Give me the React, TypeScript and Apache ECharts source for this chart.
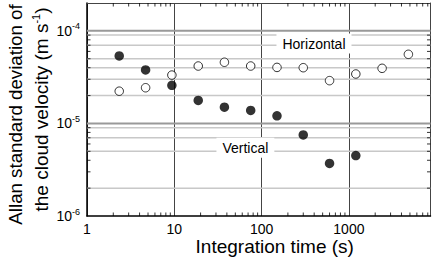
import React, { useEffect, useRef } from "react";
import * as echarts from "echarts";

// Integration times (s) and Allan deviations (m s^-1)
const horizontalTimes = [2.34, 4.69, 9.38, 18.8, 37.5, 75, 150, 300, 600, 1200, 2400, 4800];
const horizontalDev = [2.23e-5, 2.43e-5, 3.33e-5, 4.17e-5, 4.58e-5, 4.17e-5, 4.03e-5, 4.0e-5, 2.9e-5, 3.42e-5, 3.94e-5, 5.58e-5];
const verticalTimes = [2.34, 4.69, 9.38, 18.8, 37.5, 75, 150, 300, 600, 1200];
const verticalDev = [5.36e-5, 3.78e-5, 2.58e-5, 1.77e-5, 1.5e-5, 1.38e-5, 1.21e-5, 7.52e-6, 3.7e-6, 4.49e-6];

// Axis ranges and reference lines
const xMin = 1;
const xMax = 8600;
const yMin = 1e-6;
const yMax = 2e-4;
const gridMajorY = [1e-5, 1e-4];
const gridMinorY = [2e-6, 5e-6, 7e-6, 9e-6, 2e-5, 3e-5, 4e-5, 5e-5, 7e-5, 9e-5];
const xDecades = [1, 10, 100, 1000];
const yDecades = [1e-6, 1e-5];
const minorMultipliers = [2, 3, 4, 5, 6, 7, 8, 9];

// Annotation labels: [x, y, text]
const seriesLabels: [number, number, string][] = [
  [398, 7.3e-5, "Horizontal"],
  [65.2, 5.47e-6, "Vertical"],
];

const FONT = "'Liberation Sans', Arial, sans-serif";

function isPow10(v: number) {
  const l = Math.log10(v);
  return Math.abs(l - Math.round(l)) < 1e-6;
}

function tickSeries(data: number[][], size: number[], offset: number[]) {
  return {
    type: "scatter",
    silent: true,
    clip: false,
    z: 4,
    symbol: "rect",
    symbolSize: size,
    symbolOffset: offset,
    itemStyle: { color: "#000", borderWidth: 0 },
    emphasis: { disabled: true },
    data,
  };
}

export default function App() {
  const ref = useRef<HTMLDivElement>(null);
  useEffect(() => {
    if (!ref.current) return;
    const chart = echarts.init(ref.current, undefined, { renderer: "svg" });

    const xMinor: number[] = [];
    xDecades.forEach((d) => minorMultipliers.forEach((m) => { if (d * m <= xMax) xMinor.push(d * m); }));
    const yMinor: number[] = [];
    yDecades.forEach((d) => minorMultipliers.forEach((m) => { if (d * m <= yMax) yMinor.push(d * m); }));
    const L = 3.5;

    const gridData: number[][] = [
      ...gridMinorY.map((v) => [2, v, 0]),
      ...gridMajorY.map((v) => [2, v, 1]),
    ];

    const hiddenAxis = {
      type: "log",
      logBase: 10,
      axisLine: { show: true, lineStyle: { color: "#444", width: 1 } },
      axisTick: { show: false },
      axisLabel: { show: false },
      splitLine: { show: false },
    };

    const option: any = {
      animation: false,
      textStyle: { fontFamily: FONT },
      grid: { left: 87, right: 5.5, top: 3, bottom: 41, outerBoundsMode: "none", containLabel: false },
      xAxis: [
        {
          type: "log",
          logBase: 10,
          min: xMin,
          max: xMax,
          position: "bottom",
          axisLine: { show: true, lineStyle: { color: "#000", width: 1.5 } },
          axisTick: { show: false },
          splitLine: { show: true, lineStyle: { color: "#444", width: 1 } },
          axisLabel: {
            fontFamily: FONT,
            fontSize: 14,
            color: "#000",
            margin: 6,
            formatter: (v: number) => (isPow10(v) ? String(Math.round(v)) : ""),
          },
          name: "Integration time (s)",
          nameLocation: "middle",
          nameGap: 21,
          nameMoveOverlap: false,
          nameTextStyle: {
            fontFamily: FONT,
            fontSize: 19,
            color: "#000",
            padding: [0, 0, 0, 32],
          },
        },
        { ...hiddenAxis, min: xMin, max: xMax, position: "top" },
      ],
      yAxis: [
        {
          type: "log",
          logBase: 10,
          min: yMin,
          max: yMax,
          position: "left",
          axisLine: { show: true, lineStyle: { color: "#000", width: 1.5 } },
          axisTick: { show: false },
          splitLine: { show: false },
          axisLabel: {
            fontFamily: FONT,
            color: "#000",
            margin: 7,
            formatter: (v: number) => {
              if (!isPow10(v)) return "";
              const e = Math.round(Math.log10(v));
              return `{b|10}{s|${e}}`;
            },
            rich: {
              b: { fontSize: 14, fontFamily: FONT, color: "#000" },
              s: { fontSize: 9, fontFamily: FONT, color: "#000", padding: [0, 0, 9, 0] },
            },
          },
          name: "{l1|Allan standard deviation of}\nthe cloud velocity (m s{s|-1})",
          nameLocation: "middle",
          nameRotate: 90,
          nameGap: 33,
          nameMoveOverlap: false,
          nameTextStyle: {
            fontFamily: FONT,
            fontSize: 19,
            color: "#000",
            lineHeight: 26,
            rich: {
              l1: { fontSize: 18.7, lineHeight: 26, fontFamily: FONT, color: "#000", padding: [0, 10, 0, 0] },
              s: { fontSize: 11, lineHeight: 26, fontFamily: FONT, color: "#000", padding: [0, 0, 10, 0] },
            },
          },
        },
        { ...hiddenAxis, min: yMin, max: yMax, position: "right" },
      ],
      series: [
        {
          type: "custom",
          name: "gridlines",
          z: 1,
          silent: true,
          data: gridData,
          renderItem: (params: any, api: any) => {
            const cs = params.coordSys;
            const y = api.coord([xMin, api.value(1)])[1];
            const major = api.value(2) === 1;
            return {
              type: "line",
              shape: { x1: cs.x, y1: y, x2: cs.x + cs.width, y2: y },
              style: major ? { stroke: "#999", lineWidth: 2 } : { stroke: "#c8c8c8", lineWidth: 1.5 },
            };
          },
        },
        tickSeries(xMinor.map((v) => [v, yMin]), [1, L], [0, -L / 2]),
        tickSeries(xMinor.map((v) => [v, yMax]), [1, L], [0, L / 2]),
        tickSeries(yMinor.map((v) => [xMin, v]), [L, 1], [L / 2, 0]),
        tickSeries(yMinor.map((v) => [xMax, v]), [L, 1], [-L / 2, 0]),
        {
          type: "scatter",
          name: "Horizontal",
          z: 3,
          symbol: "circle",
          symbolSize: 8.5,
          itemStyle: { color: "#fff", borderColor: "#000", borderWidth: 1 },
          data: horizontalTimes.map((t, i) => [t, horizontalDev[i]]),
          markPoint: {
            silent: true,
            symbol: "rect",
            symbolSize: 1,
            itemStyle: { color: "rgba(0,0,0,0)" },
            label: {
              show: true,
              position: "inside",
              fontFamily: FONT,
              fontSize: 14,
              color: "#000",
              backgroundColor: "#fff",
              padding: [3, 6],
              formatter: (p: any) => p.name,
            },
            data: seriesLabels.map(([x, y, text]) => ({ coord: [x, y], name: text })),
          },
        },
        {
          type: "scatter",
          name: "Vertical",
          z: 3,
          symbol: "circle",
          symbolSize: 9.5,
          itemStyle: { color: "#000", borderColor: "#000", borderWidth: 0 },
          data: verticalTimes.map((t, i) => [t, verticalDev[i]]),
        },
      ],
    };
    chart.setOption(option);
    return () => chart.dispose();
  }, []);
  return (
    <div
      ref={ref}
      style={{ position: "fixed", left: 0, top: 0, width: 436, height: 257, background: "#fff" }}
    />
  );
}
